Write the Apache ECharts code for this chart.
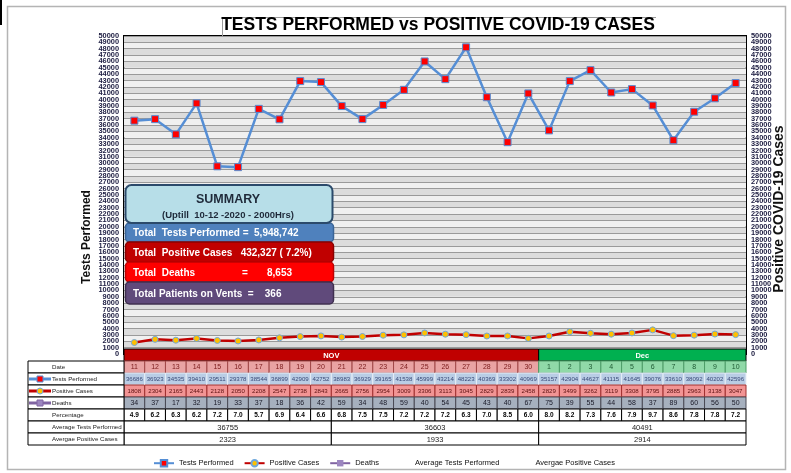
<!DOCTYPE html>
<html>
<head>
<meta charset="utf-8">
<title>Tests Performed vs Positive COVID-19 Cases</title>
<script src="https://cdn.jsdelivr.net/npm/echarts@6/dist/echarts.min.js"></script>
<style>
	html, body { margin: 0; padding: 0; background: #fff; }
	#chart { width: 791px; height: 473px; }
</style>
</head>
<body>
<div id="chart"></div>
<script>
// data
var days = ["11", "12", "13", "14", "15", "16", "17", "18", "19", "20",
	"21", "22", "23", "24", "25", "26", "27", "28", "29", "30",
	"1", "2", "3", "4", "5", "6", "7", "8", "9", "10"];
var tests = [36686, 36923, 34535, 39410, 29511, 29378, 38544, 36899, 42909, 42752,
	38983, 36929, 39165, 41538, 45999, 43214, 48223, 40369, 33302, 40969,
	35157, 42904, 44627, 41115, 41645, 39076, 33610, 38092, 40202, 42596];
var positive = [1808, 2304, 2165, 2443, 2128, 2050, 2208, 2547, 2738, 2843,
	2665, 2756, 2954, 3009, 3306, 3113, 3045, 2829, 2839, 2458,
	2829, 3499, 3262, 3119, 3308, 3795, 2885, 2963, 3138, 3047];
var deaths = [34, 37, 17, 32, 19, 33, 37, 18, 36, 42,
	59, 34, 48, 59, 40, 54, 45, 43, 40, 67,
	75, 39, 55, 44, 58, 37, 89, 60, 56, 50];
var percentage = ["4.9", "6.2", "6.3", "6.2", "7.2", "7.0", "5.7", "6.9", "6.4", "6.6",
	"6.8", "7.5", "7.5", "7.2", "7.2", "7.2", "6.3", "7.0", "8.5", "6.0",
	"8.0", "8.2", "7.3", "7.6", "7.9", "9.7", "8.6", "7.8", "7.8", "7.2"];
var months = ["NOV", "Dec"];
var monthSpans = [[0, 19], [20, 29]];
var avgSpans = [[0, 9], [10, 19], [20, 29]];
var avgTests = [36755, 36603, 40491];
var avgPositive = [2323, 1933, 2914];
var rowNames = ["", "Date", "Tests Performed", "Positive Cases", "Deaths", "Percentage",
	"Average Tests Performed", "Avergae Positive Cases"];
var yMax = 50000;
var yStep = 1000;
var summaryTitle = ["SUMMARY", "(Uptill  10-12 -2020 - 2000Hrs)"];
var summaryLines = [
	["Total  Tests Performed =  5,948,742"],
	["Total  Positive Cases   432,327 ( 7.2%)"],
	["Total  Deaths", "=", "8,653"],
	["Total Patients on Vents  =    366"]
];

var FONT = "'Liberation Sans', Arial, sans-serif";

var blue = '#558ED5', darkRed = '#C00000', purple = '#8064A2';

//----------- table cells -----------
var cells = [];
function addCell(s, e, row, text, fill, stroke, color, bold, size) {
	cells.push({ value: [s, row, e], text: String(text), fill: fill, stroke: stroke,
		color: color, bold: bold, size: size });
}
var monthFill = ['#C00000', '#00B050'];
for (var m = 0; m < months.length; m++) {
	addCell(monthSpans[m][0], monthSpans[m][1], 0, months[m], monthFill[m], '#000', '#fff', true, 7.5);
}
for (var i = 0; i < days.length; i++) {
	var dec = i >= 20;
	addCell(i, i, 1, days[i], dec ? '#90D9A8' : '#E9A3A3', dec ? '#4E9C68' : '#A04848', dec ? '#1E5A33' : '#7A1A1A', false, 7);
	addCell(i, i, 2, tests[i], '#B9CDE5', '#E6EDF6', '#3A4A78', false, 6.1);
	addCell(i, i, 3, positive[i], '#F29494', '#A03030', '#5C1010', false, 6.1);
	addCell(i, i, 4, deaths[i], '#A6B0BE', '#4A4A55', '#1A1A28', false, 7);
	addCell(i, i, 5, percentage[i], '#fff', '#000', '#000', true, 6.5);
}
for (var k = 0; k < avgSpans.length; k++) {
	addCell(avgSpans[k][0], avgSpans[k][1], 6, avgTests[k], '#fff', '#000', '#222', false, 7.5);
	addCell(avgSpans[k][0], avgSpans[k][1], 7, avgPositive[k], '#fff', '#000', '#222', false, 7.5);
}

function renderCell(params, api) {
	var c = cells[params.dataIndex];
	var a = api.coord([api.value(0), api.value(1)]);
	var b = api.coord([api.value(2), api.value(1)]);
	var sz = api.size([1, 1]);
	var x = a[0] - sz[0] / 2, y = a[1] - sz[1] / 2;
	var w = b[0] - a[0] + sz[0];
	return {
		type: 'group',
		children: [
			{ type: 'rect', shape: { x: x, y: y, width: w, height: sz[1] },
				style: { fill: c.fill, stroke: c.stroke, lineWidth: 1 } },
			{ type: 'text', style: { text: c.text, x: x + w / 2, y: y + sz[1] / 2 + 0.5,
				align: 'center', verticalAlign: 'middle', fill: c.color,
				fontSize: c.size, fontWeight: c.bold ? 'bold' : 'normal', fontFamily: FONT } }
		]
	};
}

// little legend glyphs in front of the row names
var rowIcons = { 2: [blue, '#FF0000', 'rect'], 3: [darkRed, '#FFC000', 'circle'], 4: [purple, '#9C86C0', 'rect'] };

function renderLabel(params, api) {
	var r = api.value(1);
	var p = api.coord([0, r]);
	var sz = api.size([1, 1]);
	var x = p[0] - sz[0] / 2, y = p[1] - sz[1] / 2, cy = y + sz[1] / 2;
	var kids = [
		{ type: 'rect', shape: { x: x, y: y, width: sz[0], height: sz[1] },
			style: { fill: '#fff', stroke: '#000', lineWidth: 1 } },
		{ type: 'text', style: { text: rowNames[r], x: x + 24, y: cy + 0.5, verticalAlign: 'middle',
			fill: '#222', fontSize: 6.2, fontFamily: FONT } }
	];
	var ic = rowIcons[r];
	if (ic) {
		kids.push({ type: 'line', shape: { x1: x + 1, y1: cy, x2: x + 23, y2: cy },
			style: { stroke: ic[0], lineWidth: 3 } });
		if (ic[2] == 'rect') {
			kids.push({ type: 'rect', shape: { x: x + 9, y: cy - 3, width: 6, height: 6 },
				style: { fill: ic[1], stroke: ic[0], lineWidth: 1 } });
		} else {
			kids.push({ type: 'circle', shape: { cx: x + 12, cy: cy, r: 3 },
				style: { fill: ic[1], stroke: '#6FA8DC', lineWidth: 1 } });
		}
	}
	return { type: 'group', children: kids };
}

var labelRows = [];
for (var r = 1; r < rowNames.length; r++) {
	labelRows.push([0, r]);
}

//----------- summary box -----------
var summaryFill = ['#4F81BD', '#C00000', '#FF0000', '#604A7B'];
var summaryStroke = ['#3A6496', '#8A0000', '#C00000', '#403050'];
var summaryTop = [223, 242, 262, 282];
var summaryH = [19, 20, 20, 22];
var summaryX = [[133], [133], [133, 242, 267], [133]];

var graphics = [
	{ type: 'rect', shape: { x: 7.5, y: 6.5, width: 778, height: 463 },
		style: { fill: 'none', stroke: '#B4B4B4', lineWidth: 1.5 }, silent: true },
	{ type: 'rect', shape: { x: 0, y: 0, width: 2, height: 25 }, style: { fill: '#000' } },
	{ type: 'polyline', shape: { points: [[222.5, 36], [222.5, 17.5], [656, 17.5]] },
		style: { stroke: '#9A9A9A', lineWidth: 1, fill: 'none' } },
	{ type: 'text', x: 438, y: 25, style: { text: 'TESTS PERFORMED vs POSITIVE COVID-19 CASES',
		align: 'center', verticalAlign: 'middle', fontSize: 17.5, fontWeight: 'bold', fontFamily: FONT,
		fill: '#000', textShadowColor: 'rgba(0,0,0,0.35)', textShadowOffsetX: 1, textShadowOffsetY: 1 } },
	{ type: 'text', x: 87, y: 237, rotation: Math.PI / 2, style: { text: 'Tests Performed',
		align: 'center', verticalAlign: 'middle', fontSize: 12, fontWeight: 'bold', fontFamily: FONT, fill: '#111' } },
	{ type: 'text', x: 779, y: 209, rotation: Math.PI / 2, style: { text: 'Positive COVID-19 Cases',
		align: 'center', verticalAlign: 'middle', fontSize: 14, fontWeight: 'bold', fontFamily: FONT, fill: '#111' } }
];
for (var s = 0; s < summaryLines.length; s++) {
	graphics.push({ type: 'rect', shape: { x: 125.5, y: summaryTop[s], width: 208, height: summaryH[s], r: 4 },
		style: { fill: summaryFill[s], stroke: summaryStroke[s], lineWidth: 1.5 } });
	for (var t = 0; t < summaryLines[s].length; t++) {
		graphics.push({ type: 'text', x: summaryX[s][t], y: summaryTop[s] + summaryH[s] / 2 + 1,
			style: { text: summaryLines[s][t], verticalAlign: 'middle', fill: '#fff',
				fontSize: 10, fontWeight: 'bold', fontFamily: FONT } });
	}
}
graphics.push({ type: 'rect', shape: { x: 125.5, y: 185, width: 207, height: 38, r: 6 },
	style: { fill: '#B7DEE8', stroke: '#2B4A6B', lineWidth: 2 } });
graphics.push({ type: 'text', x: 228, y: 200, style: { text: summaryTitle[0], align: 'center',
	verticalAlign: 'middle', fontSize: 12.5, fontWeight: 'bold', fontFamily: FONT, fill: '#1F2A3A' } });
graphics.push({ type: 'text', x: 228, y: 215, style: { text: summaryTitle[1], align: 'center',
	verticalAlign: 'middle', fontSize: 9.5, fontWeight: 'bold', fontFamily: FONT, fill: '#1F2A3A' } });
for (var g = 0; g < graphics.length; g++) {
	graphics[g].z = 100;
}

//----------- chart -----------
// every tick is labelled; even and odd thousands sit on two stacked axes
// so the library does not drop the crowded ones
function valueAxis(pos, odd, grid) {
	return {
		type: 'value', gridIndex: 0, position: pos, min: 0, max: yMax, interval: yStep,
		axisLine: { show: false }, axisTick: { show: false },
		axisLabel: { margin: 5, fontSize: 7.4, fontWeight: 'bold', color: '#202044', fontFamily: FONT,
			showMinLabel: !odd, showMaxLabel: !odd,
			formatter: function (v) { return ((v / yStep) % 2 == 1) == odd ? String(v) : ''; } },
		splitLine: { show: grid, lineStyle: { color: '#9A9A9A', width: 1 } },
		splitArea: { show: grid, areaStyle: { color: ['#F0F0F0', '#DCDCDC'] } }
	};
}

var chart = echarts.init(document.getElementById('chart'), null, { renderer: 'canvas' });
chart.setOption({
	animation: false,
	backgroundColor: '#fff',
	textStyle: { fontFamily: FONT },
	graphic: graphics,
	grid: [
		{ left: 124, width: 622, top: 36, height: 318, show: true, borderColor: '#000', borderWidth: 2,
			backgroundColor: 'transparent' },
		{ left: 124, width: 622, top: 349, height: 96 },
		{ left: 28, width: 96, top: 349, height: 96 }
	],
	xAxis: [
		{ type: 'category', gridIndex: 0, data: days, boundaryGap: true, show: false },
		{ type: 'category', gridIndex: 1, data: days, boundaryGap: true, show: false },
		{ type: 'category', gridIndex: 2, data: ['row'], boundaryGap: true, show: false }
	],
	yAxis: [
		valueAxis('left', false, true),
		valueAxis('right', false, false),
		{ type: 'category', gridIndex: 1, data: rowNames, inverse: true, show: false },
		{ type: 'category', gridIndex: 2, data: rowNames, inverse: true, show: false },
		valueAxis('left', true, false),
		valueAxis('right', true, false)
	],
	legend: {
		left: 153, top: 459, padding: 0, itemWidth: 20, itemHeight: 8, itemGap: 10, selectedMode: false,
		textStyle: { fontSize: 7.5, color: '#111', fontFamily: FONT },
		data: ['Tests Performed', 'Positive Cases', 'Deaths',
			{ name: 'Average Tests Performed', itemStyle: { opacity: 0 }, lineStyle: { opacity: 0 } },
			{ name: 'Avergae Positive Cases', itemStyle: { opacity: 0 }, lineStyle: { opacity: 0 } }]
	},
	series: [
		{ name: 'Tests Performed', type: 'line', xAxisIndex: 0, yAxisIndex: 0, data: tests,
			symbol: 'rect', symbolSize: 7, lineStyle: { color: blue, width: 2.5 },
			itemStyle: { color: '#FF0000', borderColor: blue, borderWidth: 1 }, z: 3 },
		{ name: 'Positive Cases', type: 'line', xAxisIndex: 0, yAxisIndex: 1, data: positive,
			symbol: 'circle', symbolSize: 6, lineStyle: { color: darkRed, width: 2.5 },
			itemStyle: { color: '#FFC000', borderColor: '#6FA8DC', borderWidth: 1 }, z: 3 },
		{ name: 'Deaths', type: 'line', xAxisIndex: 0, yAxisIndex: 0, data: deaths,
			symbol: 'rect', symbolSize: 4, lineStyle: { color: purple, width: 3 },
			itemStyle: { color: '#9C86C0' }, z: 2 },
		{ name: 'Average Tests Performed', type: 'line', data: [], itemStyle: { opacity: 0 }, lineStyle: { opacity: 0 } },
		{ name: 'Avergae Positive Cases', type: 'line', data: [], itemStyle: { opacity: 0 }, lineStyle: { opacity: 0 } },
		{ type: 'custom', xAxisIndex: 1, yAxisIndex: 2, data: cells, renderItem: renderCell, z: 10, silent: true },
		{ type: 'custom', xAxisIndex: 2, yAxisIndex: 3, data: labelRows, renderItem: renderLabel, z: 10, silent: true }
	]
});
</script>
</body>
</html>
